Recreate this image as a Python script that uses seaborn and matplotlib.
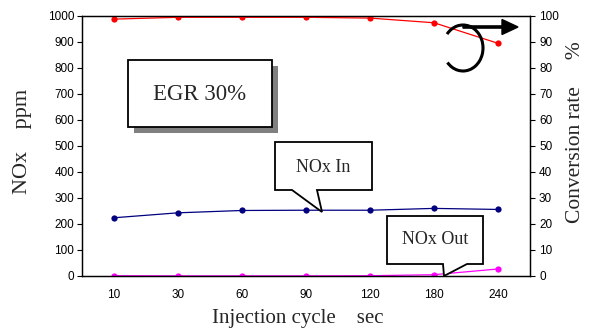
import matplotlib
matplotlib.use("Agg")
import matplotlib.pyplot as plt
import seaborn as sns
import pandas as pd
from matplotlib.patches import Rectangle, Polygon, Arc, FancyArrow
from matplotlib.transforms import Affine2D

# ---- data ----
cycles = ["10", "30", "60", "90", "120", "180", "240"]
nox_in = [224, 243, 252, 253, 253, 260, 256]
nox_out = [1, 0.5, 0.5, 0.5, 1, 5, 27]
conversion = [98.8, 99.5, 99.5, 99.5, 99.2, 97.4, 89.5]
left_ticks = list(range(0, 1001, 100))
right_ticks = list(range(0, 101, 10))

sns.set_theme(style="white")
plt.rcParams["font.family"] = ["Liberation Sans", "DejaVu Sans"]

W, H = 600, 329
fig = plt.figure(figsize=(W / 100, H / 100), dpi=100)
ax = fig.add_axes([82 / W, (H - 276) / H, 448 / W, 260 / H])
ax2 = ax.twinx()

df = pd.DataFrame({"cycle": cycles, "nox_in": nox_in, "nox_out": nox_out, "conv": conversion})

sns.lineplot(data=df, x="cycle", y="nox_in", ax=ax, color="#000080", marker="o",
             markersize=4.5, markeredgewidth=0, linewidth=0.9, sort=False)
sns.lineplot(data=df, x="cycle", y="nox_out", ax=ax, color="#ff00ff", marker="o",
             markersize=4.5, markeredgewidth=0, linewidth=0.9, sort=False)
sns.lineplot(data=df, x="cycle", y="conv", ax=ax2, color="#ff0000", marker="o",
             markersize=4.5, markeredgewidth=0, linewidth=0.9, sort=False)

ax.set_xlim(-0.5, 6.5)
ax.set_ylim(0, 1000)
ax2.set_ylim(0, 100)
ax.set_yticks(left_ticks)
ax2.set_yticks(right_ticks)

for a in (ax, ax2):
    for s in a.spines.values():
        s.set_color("black")
        s.set_linewidth(0.9)
    a.grid(False)

ax.tick_params(axis="y", direction="out", length=3.5, width=0.8, pad=2, labelsize=8.5,
               left=True, colors="black")
ax2.tick_params(axis="y", direction="out", length=3.5, width=0.8, pad=3, labelsize=8.5,
                right=True, colors="black")
ax.tick_params(axis="x", length=0, pad=9, labelsize=8.5, colors="black")

serif = ["Liberation Serif", "DejaVu Serif"]
ax.set_xlabel("")
ax.set_ylabel("")
ax2.set_ylabel("")
fig.text(298 / W, 1 - 318 / H, "Injection cycle    sec", ha="center", va="center",
         fontsize=15, family=serif)
fig.text(23 / W, 1 - 141 / H, "NOx    ppm", ha="center", va="center", rotation=90,
         fontsize=16, family=serif)
fig.text(575 / W, 1 - 132 / H, "Conversion rate     %", ha="center", va="center",
         rotation=90, fontsize=15.5, family=serif)

T = Affine2D().scale(1 / W, 1 / H) + fig.transFigure


def P(px, py):
    return (px, H - py)


# EGR box with shadow
fig.add_artist(Rectangle(P(134, 133), 144, 67, transform=T, facecolor="#808080",
                         edgecolor="none", zorder=5))
fig.add_artist(Rectangle(P(128, 127), 144, 67, transform=T, facecolor="white",
                         edgecolor="black", linewidth=1.3, zorder=6))
fig.text(200 / W, 1 - 95 / H, "EGR 30%", ha="center", va="center", fontsize=16.5,
         family=serif, zorder=7)

# NOx In callout
pts_in = [P(275, 142), P(372, 142), P(372, 190), P(317, 190), P(322, 212),
          P(292, 190), P(275, 190)]
fig.add_artist(Polygon(pts_in, closed=True, transform=T, facecolor="white",
                       edgecolor="black", linewidth=1.3, zorder=6))
fig.text(323 / W, 1 - 167 / H, "NOx In", ha="center", va="center", fontsize=13,
         family=serif, zorder=7)

# NOx Out callout
pts_out = [P(387, 216), P(483, 216), P(483, 264), P(467, 264), P(444, 276),
           P(443, 264), P(387, 264)]
fig.add_artist(Polygon(pts_out, closed=True, transform=T, facecolor="white",
                       edgecolor="black", linewidth=1.3, zorder=6))
fig.text(435 / W, 1 - 240 / H, "NOx Out", ha="center", va="center", fontsize=13,
         family=serif, zorder=7)

# rotation arrow symbol
fig.add_artist(Arc(P(463, 48), 40, 46, theta1=-137, theta2=139, transform=T,
                   edgecolor="black", linewidth=2.2, zorder=6))
fig.add_artist(FancyArrow(463, H - 27, 55, 0, width=2.2, head_width=15, head_length=16,
                          length_includes_head=True, transform=T, facecolor="black",
                          edgecolor="black", zorder=6))

fig.savefig("out.png", dpi=100)
